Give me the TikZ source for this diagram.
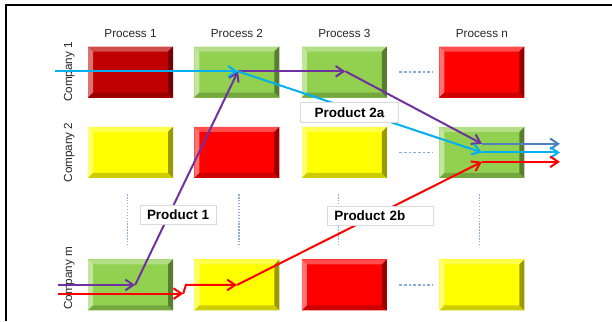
\documentclass[tikz,border=0pt]{standalone}
\usepackage{fontspec}
\setmainfont{Liberation Sans}
\usepackage{xcolor}
\usepackage{tikz}
\usetikzlibrary{arrows.meta, positioning, calc}
\definecolor{cellmaroon}{HTML}{C00000}
\definecolor{cellgreen}{HTML}{92D050}
\definecolor{cellyellow}{HTML}{FFFF00}
\definecolor{cellred}{HTML}{FF0000}
\definecolor{flowcyan}{HTML}{00B0F0}
\definecolor{flowpurple}{HTML}{7030A0}
\definecolor{flowred}{HTML}{FF0000}
\definecolor{flowsteel}{HTML}{4F81BD}
\definecolor{gridblue}{HTML}{8FAADC}
\definecolor{labelgray}{HTML}{D9D9D9}
\newcommand{\bevw}{0.15cm}

\begin{document}
\begin{tikzpicture}[
    node distance=0.87cm and 0.63cm,
    cell/.style={rectangle, fill=#1, minimum width=2.55cm, minimum height=1.53cm, inner sep=0pt,
        path picture={
            \path (path picture bounding box.south west) coordinate (sw)
                  (path picture bounding box.north east) coordinate (ne)
                  (path picture bounding box.north west) coordinate (nw)
                  (path picture bounding box.south east) coordinate (se);
            \fill[#1!70!white] (nw) -- (ne) -- ($(ne)+(-\bevw,-\bevw)$) -- ($(nw)+(\bevw,-\bevw)$) -- cycle;
            \fill[#1!55!white] (sw) -- (nw) -- ($(nw)+(\bevw,-\bevw)$) -- ($(sw)+(\bevw,\bevw)$) -- cycle;
            \fill[#1!80!black] (sw) -- (se) -- ($(se)+(-\bevw,\bevw)$) -- ($(sw)+(\bevw,\bevw)$) -- cycle;
            \fill[#1!60!black] (ne) -- (se) -- ($(se)+(-\bevw,\bevw)$) -- ($(ne)+(-\bevw,-\bevw)$) -- cycle;
        }},
    head/.style={font=\fontsize{10}{12}\selectfont, text=black!85, inner sep=0pt},
    company/.style={rotate=90, anchor=south, font=\fontsize{10}{12}\selectfont, text=black!85, inner sep=0pt},
    product/.style={rectangle, draw=labelgray, fill=white, font=\fontsize{11.5}{13}\selectfont\bfseries, inner xsep=6pt, inner ysep=4pt},
    flow/.style={-{Straight Barb[length=2.4mm, width=3.2mm]}, line width=1.7pt, draw=#1},
    vgap/.style={gridblue, line width=1pt, dash pattern=on 1.2pt off 1.3pt},
    hgap/.style={gridblue, line width=1pt, dash pattern=on 2.4pt off 1.6pt},
]
\useasboundingbox (0,0) rectangle (18.36,-9.63);

% frame
\draw[line width=1.2pt] (0.18,-9.63) -- (0.18,-0.15) -- (18.36,-0.15);

% the grid of cells
\node[cell=cellmaroon] (c1-1) at (3.915,-2.16) {};
\node[cell=cellgreen, right=of c1-1] (c1-2) {};
\node[cell=cellgreen, right=0.66cm of c1-2] (c1-3) {};
\node[cell=cellred, right=1.56cm of c1-3] (c1-n) {};

\node[cell=cellyellow, below=of c1-1] (c2-1) {};
\node[cell=cellred, below=of c1-2] (c2-2) {};
\node[cell=cellyellow, below=of c1-3] (c2-3) {};
\node[cell=cellgreen, below=of c1-n] (c2-n) {};

\node[cell=cellgreen, below=2.43cm of c2-1] (cm-1) {};
\node[cell=cellyellow, below=2.43cm of c2-2] (cm-2) {};
\node[cell=cellred, below=2.43cm of c2-3] (cm-3) {};
\node[cell=cellyellow, below=2.43cm of c2-n] (cm-n) {};

% headers
\node[head, above=0.24cm of c1-1] (h1) {Process 1};
\node[head, above=0.24cm of c1-2] (h2) {Process 2};
\node[head, above=0.24cm of c1-3] (h3) {Process 3};
\node[head, above=0.24cm of c1-n] (hn) {Process n};

\node[company] (r1) at ($(c1-1.west)+(-0.39,0)$) {Company 1};
\node[company] (r2) at ($(c2-1.west)+(-0.39,0)$) {Company 2};
\node[company] (rm) at ($(cm-1.west)+(-0.39,0.2)$) {Company m};

% skipped rows and columns
\foreach \c/\dx in {1/-0.08, 2/0.06, 3/-0.18, n/-0.08}
    \draw[vgap] ($(c2-\c.south)+(\dx,-0.48)$) -- ($(cm-\c.north)+(\dx,0.39)$);
\foreach \r in {1,2,m}
    \draw[hgap] ($(c\r-3.east)+(0.36,0)$) -- ($(c\r-n.west)+(-0.21,0)$);

% flow points
\coordinate (bstart) at ($(c1-1.west)+(-0.99,0.02)$);
\coordinate (bturn) at ($(c1-2.center)+(0.03,0.02)$);
\coordinate (pdone) at ($(c1-3.center)+(0.03,0.02)$);
\coordinate (pstart) at ($(cm-1.west)+(-0.9,0)$);
\coordinate (rstart) at ($(cm-1.west)+(-0.9,-0.26)$);
\coordinate (pturn) at ($(cm-1.center)+(0.14,0)$);
\coordinate (rjog) at ($(cm-1.east)+(0.3,-0.26)$);
\coordinate (inP) at ($(c2-n.center)+(0,0.26)$);
\coordinate (inB) at (c2-n.center);
\coordinate (inR) at ($(c2-n.center)+(0,-0.28)$);
\coordinate (outP) at ($(inP)+(2.34,0)$);
\coordinate (outB) at ($(inB)+(2.34,0)$);
\coordinate (outR) at ($(inR)+(2.34,0)$);

% product 1
\draw[flow=flowpurple] (pstart) -- (pturn);
\draw[flow=flowpurple] (pturn) -- (bturn);
\draw[flow=flowpurple] (bturn) -- (pdone);
\draw[flow=flowpurple] (pdone) -- (inP);
\draw[flow=flowsteel] (inP) -- (outP);

% product 2a
\draw[flow=flowcyan] (bstart) -- (bturn);
\draw[flow=flowcyan] (bturn) -- (inB);
\draw[flow=flowcyan] (inB) -- (outB);

% product 2b
\draw[flow=flowred] (rstart) -- (rjog);
\draw[flow=flowred] (rjog) -- ++(0.08,0.26) -- (cm-2.center);
\draw[flow=flowred] (cm-2.center) -- (inR);
\draw[flow=flowred] (inR) -- (outR);

\node[product] (p1) at ($(c2-1)!0.5!(cm-2)+(-0.17,0.13)$) {Product 1};
\node[product, minimum width=2.94cm] (p2a) at ($(c1-3.south)!0.5!(c2-3.north)+(0.15,0)$) {Product 2a};
\node[product, minimum width=3.15cm, text width=2.75cm, align=left] (p2b) at ($(c2-3)!0.5!(cm-3)+(1.07,0.09)$) {Product 2b};

\end{tikzpicture}
\end{document}
